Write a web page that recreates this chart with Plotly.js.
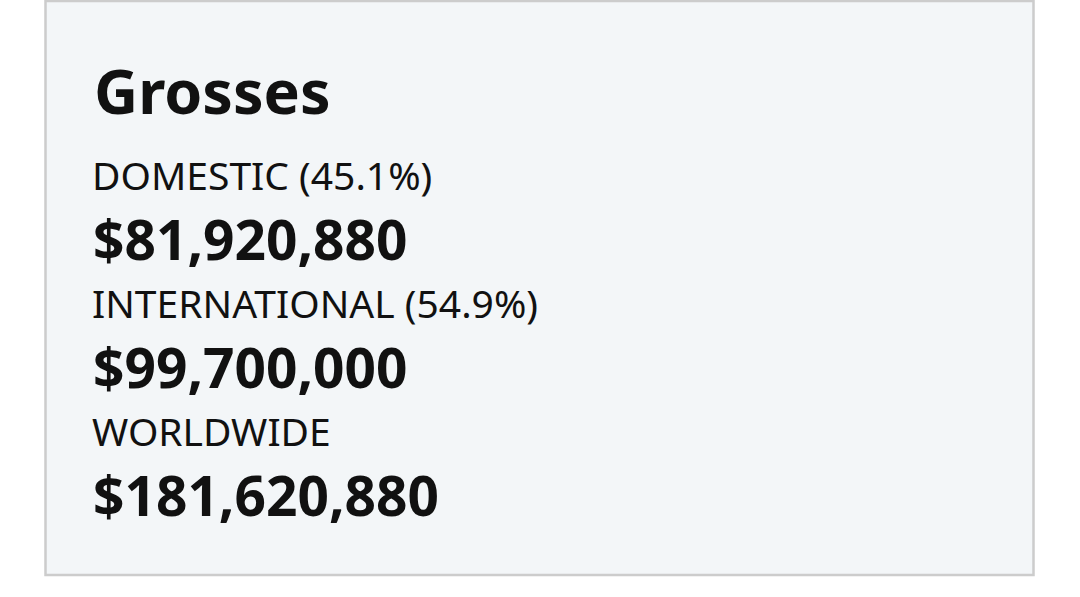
<!DOCTYPE html>
<html>
<head>
<meta charset="utf-8">
<script src="https://cdn.plot.ly/plotly-3.0.1.min.js"></script>
<style>
  html, body { margin: 0; padding: 0; background: #ffffff; }
  #chart { width: 1080px; height: 597px; }
</style>
</head>
<body>
<div id="chart"></div>
<script>
// ---- data ----
const cardTitle = 'Grosses';
const regions = ['DOMESTIC', 'INTERNATIONAL', 'WORLDWIDE'];
const shares = [45.1, 54.9, null];           // percent of worldwide
const grosses = [81920880, 99700000, 181620880]; // USD

// ---- layout constants ----
const W = 1080, H = 597;
const titleY = 90;
const labelY0 = 174, amountY0 = 238, rowStep = 128;
const ink = '#111111';
const FONT = '"Noto Sans", "Open Sans", Arial, sans-serif';

function fmtUSD(v) { return '$' + v.toLocaleString('en-US'); }

const annotations = [{
  x: 92, y: titleY, xref: 'x', yref: 'y',
  xanchor: 'left', yanchor: 'middle', showarrow: false,
  text: '<b>' + cardTitle + '</b>',
  font: { family: FONT, size: 61, color: ink }
}];

regions.forEach((r, i) => {
  const lbl = shares[i] == null ? r : r + ' (' + shares[i].toFixed(1) + '%)';
  annotations.push({
    x: 90, y: labelY0 + i * rowStep, xref: 'x', yref: 'y',
    xanchor: 'left', yanchor: 'middle', showarrow: false,
    text: lbl,
    font: { family: FONT, size: 39, color: ink }
  });
  annotations.push({
    x: 91, y: amountY0 + i * rowStep, xref: 'x', yref: 'y',
    xanchor: 'left', yanchor: 'middle', showarrow: false,
    text: '<b>' + fmtUSD(grosses[i]) + '</b>',
    font: { family: FONT, size: 55, color: ink }
  });
});

const layout = {
  width: W, height: H,
  margin: { l: 0, r: 0, t: 0, b: 0, pad: 0 },
  paper_bgcolor: '#ffffff',
  plot_bgcolor: 'rgba(0,0,0,0)',
  showlegend: false,
  xaxis: { range: [0, W], visible: false, fixedrange: true },
  yaxis: { range: [H, 0], visible: false, fixedrange: true },
  shapes: [{
    type: 'rect', xref: 'x', yref: 'y',
    x0: 45.5, x1: 1033.5, y0: 1, y1: 575,
    fillcolor: '#f3f6f8',
    line: { color: '#cccccc', width: 2.5 },
    layer: 'below'
  }],
  annotations: annotations
};

Plotly.newPlot('chart', [{ x: [], y: [], type: 'scatter', mode: 'markers', hoverinfo: 'skip' }], layout, { staticPlot: true, displayModeBar: false });
</script>
</body>
</html>
